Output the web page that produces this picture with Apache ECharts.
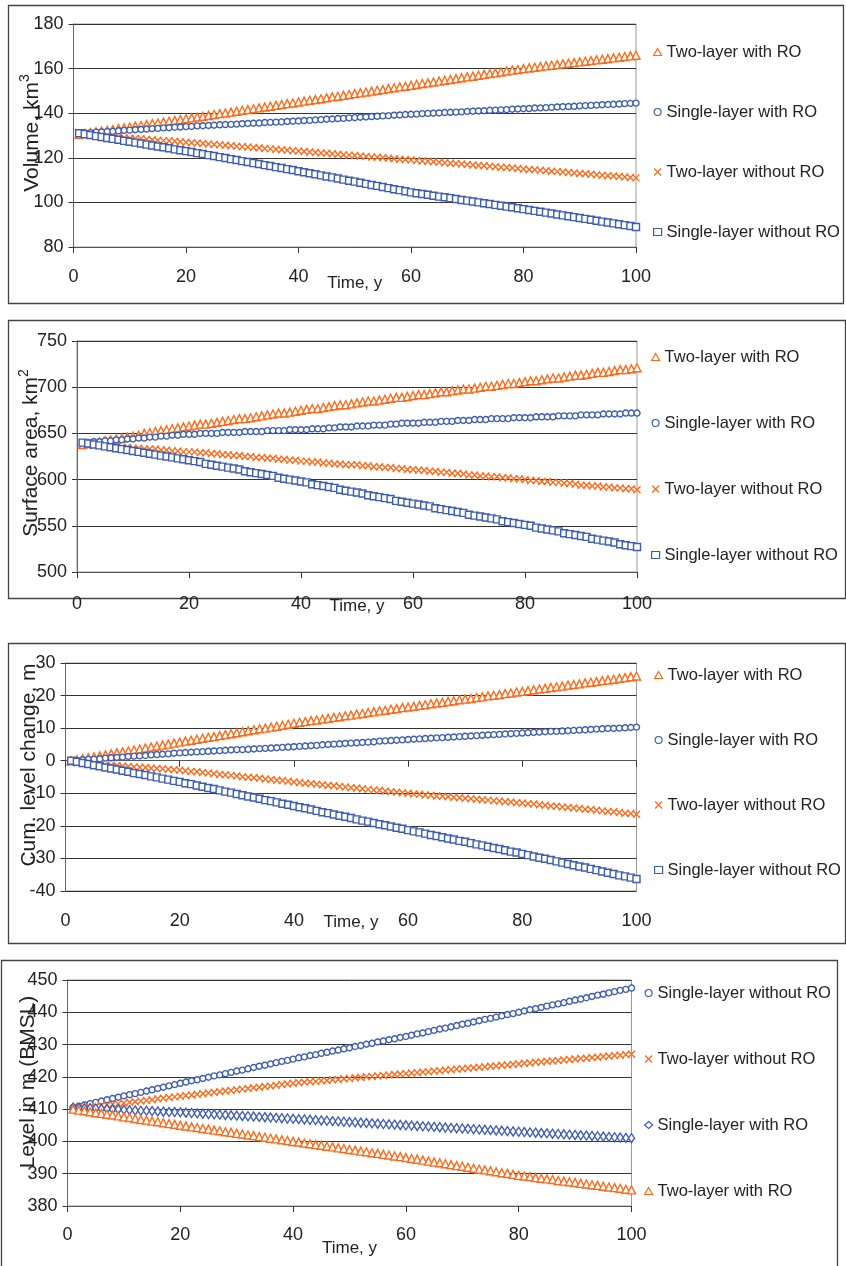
<!DOCTYPE html>
<html><head><meta charset="utf-8">
<script src="https://cdn.jsdelivr.net/npm/echarts@6/dist/echarts.min.js"></script>
<style>html,body{margin:0;padding:0;background:#fff}#c{width:846px;height:1266px}</style>
</head><body><div id="c"></div>
<script>
const years = [1,2,3,4,5,6,7,8,9,10,11,12,13,14,15,16,17,18,19,20,21,22,23,24,25,26,27,28,29,30,31,32,33,34,35,36,37,38,39,40,41,42,43,44,45,46,47,48,49,50,51,52,53,54,55,56,57,58,59,60,61,62,63,64,65,66,67,68,69,70,71,72,73,74,75,76,77,78,79,80,81,82,83,84,85,86,87,88,89,90,91,92,93,94,95,96,97,98,99,100];

// Panel 1: Volume, km3
const volTwoRO = [130.5,130.9,131.2,131.6,132.0,132.3,132.7,133.1,133.4,133.8,134.2,134.5,134.9,135.3,135.6,136.0,136.4,136.8,137.1,137.5,137.9,138.3,138.6,139.0,139.4,139.8,140.1,140.5,140.9,141.3,141.6,142.0,142.4,142.8,143.1,143.5,143.9,144.3,144.6,145.0,145.4,145.8,146.1,146.5,146.9,147.3,147.6,148.0,148.4,148.8,149.1,149.5,149.9,150.3,150.6,151.0,151.4,151.8,152.1,152.5,152.9,153.3,153.6,154.0,154.4,154.8,155.1,155.5,155.9,156.3,156.6,157.0,157.4,157.8,158.1,158.5,158.9,159.3,159.6,160.0,160.3,160.6,160.9,161.2,161.5,161.8,162.1,162.4,162.7,163.0,163.3,163.6,163.9,164.2,164.5,164.8,165.1,165.4,165.7,166.0];
const volSingleRO = [131.0,131.2,131.3,131.5,131.6,131.8,131.9,132.1,132.3,132.4,132.6,132.7,132.9,133.1,133.2,133.4,133.5,133.7,133.8,134.0,134.1,134.3,134.4,134.5,134.6,134.8,134.9,135.0,135.1,135.3,135.4,135.5,135.6,135.8,135.9,136.0,136.1,136.3,136.4,136.5,136.7,136.8,137.0,137.1,137.3,137.4,137.6,137.7,137.9,138.0,138.2,138.3,138.5,138.6,138.8,138.9,139.1,139.2,139.4,139.5,139.6,139.8,139.9,140.0,140.1,140.3,140.4,140.5,140.6,140.8,140.9,141.0,141.1,141.3,141.4,141.5,141.6,141.8,141.9,142.0,142.1,142.3,142.4,142.5,142.6,142.8,142.9,143.0,143.1,143.3,143.4,143.5,143.6,143.8,143.9,144.0,144.1,144.3,144.4,144.5];
const volTwoNoRO = [130.5,130.3,130.1,129.9,129.8,129.6,129.4,129.2,129.0,128.8,128.7,128.5,128.3,128.1,127.9,127.7,127.6,127.4,127.2,127.0,126.8,126.6,126.4,126.2,126.0,125.8,125.6,125.4,125.2,125.0,124.8,124.6,124.4,124.2,124.0,123.8,123.6,123.4,123.2,123.0,122.8,122.6,122.4,122.2,122.0,121.8,121.6,121.4,121.2,121.0,120.8,120.6,120.4,120.2,120.0,119.8,119.6,119.4,119.2,119.0,118.8,118.6,118.4,118.2,118.0,117.8,117.6,117.4,117.2,117.0,116.8,116.6,116.4,116.2,116.0,115.8,115.6,115.4,115.2,115.0,114.8,114.6,114.4,114.2,114.0,113.8,113.6,113.4,113.2,113.0,112.8,112.6,112.4,112.2,112.0,111.8,111.6,111.4,111.2,111.0];
const volSingleNoRO = [131.0,130.6,130.2,129.7,129.3,128.9,128.5,128.1,127.6,127.2,126.8,126.4,125.9,125.5,125.1,124.7,124.3,123.8,123.4,123.0,122.6,122.1,121.7,121.2,120.8,120.3,119.9,119.4,119.0,118.5,118.1,117.6,117.2,116.7,116.3,115.8,115.4,114.9,114.5,114.0,113.5,113.1,112.6,112.1,111.6,111.2,110.7,110.2,109.7,109.3,108.8,108.3,107.8,107.4,106.9,106.4,105.9,105.5,105.0,104.5,104.1,103.8,103.4,103.0,102.6,102.3,101.9,101.5,101.1,100.8,100.4,100.0,99.6,99.3,98.9,98.5,98.1,97.8,97.4,97.0,96.6,96.2,95.8,95.4,95.0,94.6,94.2,93.8,93.4,93.0,92.6,92.2,91.8,91.4,91.0,90.6,90.2,89.8,89.4,89.0];

// Panel 2: Surface area, km2
const areaTwoRO = [638,639,640,641,642,643,644,645,646,647,648,650,651,652,653,654,655,656,657,658,659,660,660,661,662,663,664,665,666,666,667,668,669,670,671,672,672,673,674,675,676,677,677,678,679,680,681,681,682,683,684,685,685,686,687,688,689,689,690,691,692,692,693,694,695,695,696,697,698,698,699,700,701,701,702,703,704,704,705,706,707,707,708,709,710,710,711,712,713,713,714,715,716,716,717,718,719,719,720,721];
const areaSingleRO = [640,640,641,641,642,642,643,643,644,644,645,645,646,646,647,647,648,648,649,649,649,650,650,650,650,651,651,651,651,652,652,652,652,653,653,653,653,654,654,654,654,655,655,655,656,656,657,657,657,658,658,658,659,659,659,660,660,661,661,661,661,662,662,662,663,663,663,664,664,664,665,665,665,666,666,666,666,667,667,667,667,668,668,668,668,669,669,669,669,670,670,670,670,671,671,671,671,672,672,672];
const areaTwoNoRO = [638,638,637,637,636,636,636,635,635,634,634,633,633,633,632,632,631,631,630,630,630,629,629,628,628,627,627,626,626,625,625,624,624,623,623,622,622,621,621,620,620,619,619,618,618,617,617,616,616,616,615,615,614,614,613,613,612,612,611,611,610,610,609,609,608,608,607,607,606,605,605,604,604,603,603,602,602,601,601,600,599,599,598,598,597,597,596,596,595,594,594,593,593,592,592,591,591,590,590,589];
const areaSingleNoRO = [640,639,638,637,636,635,634,633,632,631,630,629,628,627,626,625,624,623,622,621,620,619,617,616,615,614,613,612,611,609,608,607,606,605,604,602,601,600,599,598,597,595,594,593,592,591,589,588,587,586,585,583,582,581,580,579,577,576,575,574,573,572,571,569,568,567,566,565,564,562,561,560,559,558,557,555,554,553,552,551,550,548,547,546,545,544,542,541,540,539,538,536,535,534,533,532,530,529,528,527];

// Panel 3: Cum. level change, m
const cumTwoRO = [0.0,0.3,0.6,0.9,1.2,1.5,1.8,2.1,2.4,2.7,3.0,3.3,3.6,3.9,4.2,4.5,4.8,5.1,5.4,5.7,6.0,6.3,6.6,6.9,7.2,7.4,7.7,8.0,8.3,8.6,8.9,9.2,9.5,9.8,10.0,10.3,10.6,10.9,11.2,11.5,11.8,12.0,12.3,12.5,12.8,13.0,13.3,13.5,13.8,14.0,14.3,14.5,14.8,15.0,15.3,15.5,15.8,16.0,16.3,16.5,16.7,17.0,17.2,17.5,17.7,17.9,18.2,18.4,18.7,18.9,19.1,19.4,19.6,19.9,20.1,20.3,20.6,20.8,21.1,21.3,21.5,21.8,22.0,22.2,22.5,22.7,22.9,23.2,23.4,23.6,23.9,24.1,24.3,24.6,24.8,25.0,25.3,25.5,25.8,26.0];
const cumSingleRO = [0.0,0.1,0.3,0.4,0.5,0.6,0.8,0.9,1.0,1.1,1.3,1.4,1.5,1.6,1.8,1.9,2.0,2.1,2.3,2.4,2.5,2.6,2.7,2.8,2.9,3.0,3.1,3.2,3.3,3.4,3.4,3.5,3.6,3.7,3.8,3.9,4.0,4.1,4.2,4.3,4.4,4.5,4.6,4.7,4.9,5.0,5.1,5.2,5.3,5.4,5.5,5.6,5.7,5.8,6.0,6.1,6.2,6.3,6.4,6.5,6.6,6.7,6.8,6.9,7.0,7.1,7.2,7.3,7.4,7.5,7.6,7.7,7.8,7.9,8.0,8.1,8.2,8.3,8.4,8.5,8.6,8.7,8.8,8.9,9.0,9.0,9.1,9.2,9.3,9.4,9.5,9.6,9.7,9.8,9.9,9.9,10.0,10.1,10.2,10.3];
const cumTwoNoRO = [-0.5,-0.6,-0.8,-0.9,-1.0,-1.1,-1.3,-1.4,-1.5,-1.6,-1.8,-1.9,-2.0,-2.1,-2.3,-2.4,-2.5,-2.6,-2.8,-2.9,-3.1,-3.3,-3.4,-3.6,-3.8,-4.0,-4.2,-4.3,-4.5,-4.7,-4.9,-5.1,-5.2,-5.4,-5.6,-5.8,-6.0,-6.1,-6.3,-6.5,-6.7,-6.9,-7.0,-7.2,-7.4,-7.6,-7.7,-7.9,-8.1,-8.3,-8.4,-8.6,-8.8,-9.0,-9.1,-9.3,-9.5,-9.7,-9.8,-10.0,-10.2,-10.3,-10.5,-10.6,-10.8,-10.9,-11.1,-11.2,-11.4,-11.5,-11.7,-11.8,-12.0,-12.1,-12.3,-12.4,-12.6,-12.7,-12.9,-13.0,-13.2,-13.3,-13.5,-13.7,-13.9,-14.0,-14.2,-14.4,-14.5,-14.7,-14.9,-15.0,-15.2,-15.4,-15.6,-15.7,-15.9,-16.1,-16.2,-16.4];
const cumSingleNoRO = [0.0,-0.3,-0.7,-1.0,-1.4,-1.7,-2.1,-2.4,-2.7,-3.1,-3.4,-3.8,-4.1,-4.4,-4.8,-5.1,-5.5,-5.8,-6.2,-6.5,-6.9,-7.2,-7.6,-8.0,-8.4,-8.7,-9.1,-9.5,-9.8,-10.2,-10.6,-11.0,-11.3,-11.7,-12.1,-12.4,-12.8,-13.2,-13.5,-13.9,-14.3,-14.6,-15.0,-15.4,-15.8,-16.1,-16.5,-16.9,-17.2,-17.6,-18.0,-18.4,-18.7,-19.1,-19.5,-19.8,-20.2,-20.6,-20.9,-21.3,-21.7,-22.0,-22.4,-22.8,-23.1,-23.5,-23.9,-24.2,-24.6,-24.9,-25.3,-25.7,-26.0,-26.4,-26.8,-27.1,-27.5,-27.9,-28.2,-28.6,-29.0,-29.4,-29.8,-30.1,-30.5,-30.9,-31.3,-31.7,-32.1,-32.5,-32.8,-33.2,-33.6,-34.0,-34.4,-34.8,-35.2,-35.5,-35.9,-36.3];

// Panel 4: Level in m (BMSL)
const lvlSingleNoRO = [410.5,410.9,411.3,411.7,412.1,412.5,412.9,413.3,413.7,414.1,414.5,414.8,415.2,415.6,416.0,416.4,416.8,417.2,417.6,418.0,418.4,418.8,419.1,419.5,419.9,420.3,420.6,421.0,421.4,421.8,422.1,422.5,422.9,423.3,423.6,424.0,424.4,424.8,425.1,425.5,425.9,426.2,426.6,426.9,427.3,427.6,428.0,428.3,428.7,429.0,429.4,429.7,430.1,430.4,430.8,431.1,431.5,431.8,432.2,432.5,432.9,433.3,433.6,434.0,434.4,434.8,435.1,435.5,435.9,436.3,436.6,437.0,437.4,437.8,438.1,438.5,438.9,439.3,439.6,440.0,440.4,440.8,441.1,441.5,441.9,442.3,442.6,443.0,443.4,443.8,444.1,444.5,444.9,445.3,445.6,446.0,446.4,446.8,447.1,447.5];
const lvlTwoNoRO = [410.0,410.2,410.4,410.6,410.8,411.1,411.3,411.5,411.7,411.9,412.1,412.3,412.5,412.7,412.9,413.2,413.4,413.6,413.8,414.0,414.2,414.4,414.6,414.8,415.0,415.2,415.4,415.6,415.8,416.0,416.2,416.4,416.6,416.8,417.0,417.2,417.4,417.6,417.8,418.0,418.2,418.3,418.5,418.6,418.8,418.9,419.1,419.2,419.4,419.5,419.7,419.8,420.0,420.1,420.3,420.4,420.6,420.7,420.9,421.0,421.2,421.3,421.5,421.6,421.8,421.9,422.1,422.2,422.4,422.5,422.7,422.8,423.0,423.1,423.3,423.4,423.6,423.7,423.9,424.0,424.2,424.3,424.5,424.6,424.8,424.9,425.1,425.2,425.4,425.5,425.7,425.8,426.0,426.1,426.3,426.4,426.6,426.7,426.9,427.0];
const lvlSingleRO = [410.5,410.4,410.3,410.3,410.2,410.1,410.0,409.9,409.9,409.8,409.7,409.6,409.5,409.5,409.4,409.3,409.2,409.1,409.1,409.0,408.9,408.8,408.7,408.6,408.5,408.4,408.3,408.2,408.1,408.0,407.9,407.8,407.7,407.6,407.5,407.4,407.3,407.2,407.1,407.0,406.9,406.8,406.7,406.6,406.5,406.4,406.3,406.2,406.1,406.0,405.9,405.8,405.7,405.6,405.5,405.4,405.3,405.2,405.1,405.0,404.9,404.8,404.7,404.6,404.5,404.4,404.3,404.2,404.1,404.0,403.9,403.8,403.7,403.6,403.5,403.4,403.3,403.2,403.1,403.0,402.9,402.8,402.7,402.6,402.5,402.4,402.3,402.2,402.1,402.0,401.9,401.8,401.7,401.6,401.5,401.4,401.3,401.2,401.1,401.0];
const lvlTwoRO = [410.0,409.7,409.5,409.2,408.9,408.7,408.4,408.2,407.9,407.6,407.4,407.1,406.8,406.6,406.3,406.1,405.8,405.5,405.3,405.0,404.8,404.5,404.3,404.0,403.8,403.5,403.3,403.0,402.8,402.5,402.3,402.0,401.8,401.5,401.3,401.0,400.8,400.5,400.3,400.0,399.8,399.5,399.3,399.0,398.8,398.5,398.3,398.0,397.8,397.5,397.3,397.0,396.8,396.5,396.3,396.0,395.8,395.5,395.3,395.0,394.7,394.5,394.2,393.9,393.6,393.4,393.1,392.8,392.5,392.3,392.0,391.7,391.4,391.2,390.9,390.6,390.3,390.1,389.8,389.5,389.3,389.1,388.8,388.6,388.4,388.2,387.9,387.7,387.5,387.3,387.0,386.8,386.6,386.4,386.1,385.9,385.7,385.5,385.2,385.0];

const yTitles = ['Volume, km{s|3}', 'Surface area, km{s|2}', 'Cum. level change, m', 'Level in m (BMSL)'];
const xTitle = 'Time, y';
const names = {tRO:'Two-layer with RO', sRO:'Single-layer with RO', tNo:'Two-layer without RO', sNo:'Single-layer without RO'};

const ORANGE = '#FF6A1A', BLUE = '#3D5DB2';
const FONT = "'Liberation Sans',Arial,sans-serif";
const XSYM = 'path://M0,0L10,10M10,0L0,10';
const SYM = {tri:'triangle', circ:'circle', x:XSYM, sq:'rect', dia:'diamond'};

const grids = [
  {left:73.5, top:24, width:562.5, height:223},
  {left:77, top:341, width:560, height:231},
  {left:65.5, top:663, width:571, height:228},
  {left:67.5, top:980, width:564, height:226}
];
const yRanges = [[80,180,20],[500,750,50],[-40,30,10],[380,450,10]];

const panels = [
  [[names.tRO, volTwoRO, ORANGE, 'tri'], [names.sRO, volSingleRO, BLUE, 'circ'], [names.tNo, volTwoNoRO, ORANGE, 'x'], [names.sNo, volSingleNoRO, BLUE, 'sq']],
  [[names.tRO, areaTwoRO, ORANGE, 'tri'], [names.sRO, areaSingleRO, BLUE, 'circ'], [names.tNo, areaTwoNoRO, ORANGE, 'x'], [names.sNo, areaSingleNoRO, BLUE, 'sq']],
  [[names.tRO, cumTwoRO, ORANGE, 'tri'], [names.sRO, cumSingleRO, BLUE, 'circ'], [names.tNo, cumTwoNoRO, ORANGE, 'x'], [names.sNo, cumSingleNoRO, BLUE, 'sq']],
  [[names.sNo, lvlSingleNoRO, BLUE, 'circ'], [names.tNo, lvlTwoNoRO, ORANGE, 'x'], [names.sRO, lvlSingleRO, BLUE, 'dia'], [names.tRO, lvlTwoRO, ORANGE, 'tri']]
];
const symSize = {tri:[8,8], circ:6, x:7, sq:7, dia:[6,9]};
const legendPos = [{left:648, top:37, gap:40}, {left:646, top:342, gap:46}, {left:649, top:660, gap:45}, {left:639, top:978, gap:46}];
const yTitlePos = [[32,133],[31,453],[29,765],[28,1082]];
const boxes = [[8,5,835,298],[8,320,837,278],[8,643,837,300],[1,960,836,330]];
const labelMargin = [21, 23, 21, 20];
const nameGaps = [26, 24, 21, 32];

const xAxes = [], yAxes = [], series = [], legends = [], graphics = [];
grids.forEach((g, i) => {
  xAxes.push({type:'value', gridIndex:i, min:0, max:100, interval:20,
    name: xTitle, nameLocation:'middle', nameGap: nameGaps[i], nameMoveOverlap:false,
    nameTextStyle:{fontSize:17, color:'#222', fontFamily:FONT, verticalAlign:'top', lineHeight:20},
    axisLine:{lineStyle:{color:'#555', width:1}},
    axisTick:{show:true, length:6, lineStyle:{color:'#333'}},
    axisLabel:{fontSize:18, color:'#222', fontFamily:FONT, margin:labelMargin[i]},
    splitLine:{show:false}});
  yAxes.push({type:'value', gridIndex:i, min:yRanges[i][0], max:yRanges[i][1], interval:yRanges[i][2],
    axisLine:{show:true, lineStyle:{color:'#666', width:1}},
    axisTick:{show:true, length:5, lineStyle:{color:'#333'}},
    axisLabel:{fontSize:18, color:'#222', fontFamily:FONT, margin:10},
    splitLine:{show:true, lineStyle:{color:'#333', width:1}}});
  panels[i].forEach(([nm, vals, col, sym]) => {
    series.push({type:'scatter', name:nm, xAxisIndex:i, yAxisIndex:i,
      symbol:SYM[sym], symbolSize:symSize[sym],
      itemStyle:{color:'#fff', borderColor:col, borderWidth:1.4, opacity:1},
      emphasis:{disabled:true}, silent:true,
      data: years.map((y, k) => [y, vals[k]])});
  });
  const lp = legendPos[i];
  legends.push({orient:'vertical', left:lp.left, top:lp.top, itemGap:lp.gap, itemWidth:8, itemHeight:7,
    selectedMode:false, textStyle:{fontSize:16.5, lineHeight:20, color:'#222', fontFamily:FONT},
    data: panels[i].map(([nm, vals, col, sym]) => ({name:nm, icon:SYM[sym],
      itemStyle:{color:'#fff', borderColor:col, borderWidth:1.2}}))});
  const b = boxes[i];
  graphics.push({type:'rect', shape:{x:b[0]+0.5, y:b[1]+0.5, width:b[2], height:b[3]}, style:{fill:'none', stroke:'#444', lineWidth:1.3}, z:-1, silent:true});
  graphics.push({type:'text', x:yTitlePos[i][0], y:yTitlePos[i][1], rotation:Math.PI/2,
    style:{text:yTitles[i], fontSize:21, fill:'#222', fontFamily:FONT, align:'center', verticalAlign:'middle',
      rich:{s:{fontSize:14, fill:'#222', fontFamily:FONT, padding:[0,0,13,0]}}}, z:5, silent:true});
});

const chart = echarts.init(document.getElementById('c'), null, {renderer:'canvas'});
chart.setOption({
  animation:false, backgroundColor:'#fff',
  grid: grids.map(g => Object.assign({show:true, borderColor:'#999', borderWidth:1, backgroundColor:'#fff'}, g)),
  xAxis:xAxes, yAxis:yAxes, series, legend:legends, graphic:graphics
});
</script></body></html>
